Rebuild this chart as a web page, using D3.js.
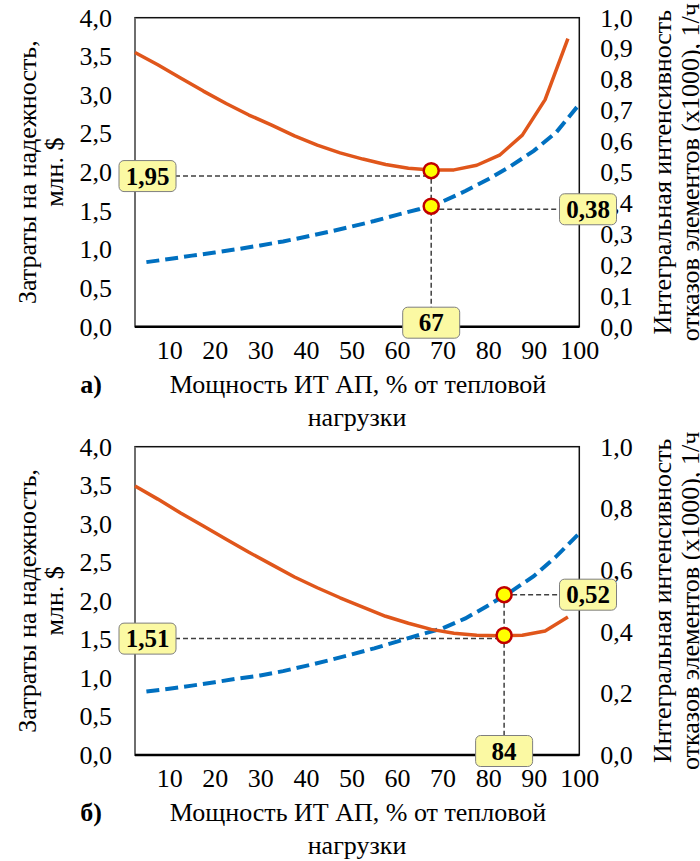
<!DOCTYPE html>
<html>
<head>
<meta charset="utf-8">
<script src="https://cdn.jsdelivr.net/npm/d3@7"></script>
<style>
  body { margin: 0; background: #fff; }
  #chart text { font-family: "Liberation Serif", "Times New Roman", Times, "DejaVu Serif", serif !important; fill: #000; }
</style>
</head>
<body>
<svg id="chart" width="700" height="861"></svg>
<script>
// x positions (% of heat load)
const xTicks = [10, 20, 30, 40, 50, 60, 70, 80, 90, 100];
const costX = [2.5, 7.5, 12.5, 17.5, 22.5, 27.5, 32.5, 37.5, 42.5, 47.5,
               52.5, 57.5, 62.5, 67.5, 72.5, 77.5, 82.5, 87.5, 92.5, 97.5];
const rateX = [5, 10, 15, 20, 25, 30, 35, 40, 45, 50,
               55, 60, 65, 70, 75, 80, 85, 90, 95, 100];

// panel а)
const costA = [3.55, 3.39, 3.22, 3.05, 2.89, 2.74, 2.61, 2.47, 2.35, 2.25,
               2.17, 2.10, 2.05, 2.03, 2.03, 2.09, 2.22, 2.48, 2.94, 3.73];
const rateA = [0.209, 0.219, 0.230, 0.240, 0.251, 0.263, 0.276, 0.291, 0.307, 0.324,
               0.342, 0.362, 0.381, 0.405, 0.439, 0.477, 0.520, 0.569, 0.630, 0.720];

// panel б)
const costB = [3.49, 3.32, 3.14, 2.97, 2.80, 2.63, 2.47, 2.31, 2.17, 2.04,
               1.92, 1.80, 1.71, 1.63, 1.58, 1.553, 1.548, 1.553, 1.61, 1.79];
const rateB = [0.206, 0.215, 0.225, 0.236, 0.248, 0.258, 0.272, 0.289, 0.307, 0.326,
               0.346, 0.368, 0.390, 0.411, 0.443, 0.485, 0.530, 0.580, 0.645, 0.719];

const costTicks = [0, 0.5, 1, 1.5, 2, 2.5, 3, 3.5, 4];
const rateTicksA = [0, 0.1, 0.2, 0.3, 0.4, 0.5, 0.6, 0.7, 0.8, 0.9, 1];
const rateTicksB = [0, 0.2, 0.4, 0.6, 0.8, 1];

// optimum markers: position on curves and the callout values
const markX = [67.5, 83.5];
const markCost = [2.02, 1.55];
const markRate = [0.39, 0.52];
const calloutX = ["67", "84"];
const calloutCost = ["1,95", "1,51"];
const calloutRate = ["0,38", "0,52"];
const panelTags = ["а)", "б)"];

const serif = '"Liberation Serif", "Times New Roman", Times, "DejaVu Serif", serif';
const fs = 26;
const svg = d3.select("#chart").attr("font-family", serif);
const fmt = d => d3.format(".1f")(d).replace(".", ",");
const num = s => +s.replace(",", ".");

const left = 135, right = 579.3;
const x = d3.scaleLinear().domain([2.5, 100]).range([left, right]);

function drawPanel(i, top, bottom, cost, rate, rateTicks) {
    const g = svg.append("g");
    const yL = d3.scaleLinear().domain([0, 4]).range([bottom, top]);
    const yR = d3.scaleLinear().domain([0, 1]).range([bottom, top]);

    // axes
    g.append("g")
        .attr("transform", "translate(" + left + ",0)")
        .call(d3.axisLeft(yL).tickValues(costTicks).tickSize(0).tickPadding(23).tickFormat(fmt))
        .attr("font-size", fs).attr("font-family", serif)
        .call(a => a.select(".domain").remove());

    g.append("g")
        .attr("transform", "translate(" + right + ",0)")
        .call(d3.axisRight(yR).tickValues(rateTicks).tickSize(0).tickPadding(21).tickFormat(fmt))
        .attr("font-size", fs).attr("font-family", serif)
        .call(a => a.select(".domain").remove());

    g.append("g")
        .attr("transform", "translate(0," + bottom + ")")
        .call(d3.axisBottom(x).tickValues(xTicks).tickSize(0).tickPadding(14))
        .attr("font-size", fs).attr("font-family", serif)
        .call(a => a.select(".domain").remove());

    // plot frame
    g.append("rect")
        .attr("x", left).attr("y", top)
        .attr("width", right - left).attr("height", bottom - top)
        .attr("fill", "none").attr("stroke", "#111").attr("stroke-width", 1.5);
    g.append("line")
        .attr("x1", left).attr("x2", left).attr("y1", top).attr("y2", bottom)
        .attr("stroke", "#6e6e6e").attr("stroke-width", 2);
    g.append("line")
        .attr("x1", left).attr("x2", right).attr("y1", bottom).attr("y2", bottom)
        .attr("stroke", "#000").attr("stroke-width", 2.5);

    // callout guide lines
    const mx = x(markX[i]);
    const cy = yL(markCost[i]);
    const ry = yR(markRate[i]);
    const guide = (x1, y1, x2, y2) => g.append("line")
        .attr("x1", x1).attr("y1", y1).attr("x2", x2).attr("y2", y2)
        .attr("stroke", "#404040").attr("stroke-width", 1.5)
        .attr("stroke-dasharray", "5,3");
    guide(left, yL(num(calloutCost[i])), mx, yL(num(calloutCost[i])));
    guide(mx, yR(num(calloutRate[i])), right, yR(num(calloutRate[i])));
    guide(mx, Math.min(cy, ry), mx, bottom);

    // curves
    g.append("path")
        .datum(rateX.map((d, k) => [d, rate[k]]))
        .attr("fill", "none")
        .attr("stroke", "#0070c0")
        .attr("stroke-width", 4)
        .attr("stroke-dasharray", "13,6")
        .attr("d", d3.line().x(d => x(d[0])).y(d => yR(d[1])));

    g.append("path")
        .datum(costX.map((d, k) => [d, cost[k]]))
        .attr("fill", "none")
        .attr("stroke", "#e0561b")
        .attr("stroke-width", 3.5)
        .attr("stroke-linejoin", "round")
        .attr("d", d3.line().x(d => x(d[0])).y(d => yL(d[1])));

    // markers
    [cy, ry].forEach(y => {
        g.append("circle")
            .attr("cx", mx).attr("cy", y).attr("r", 7.5)
            .attr("fill", "#ffff00").attr("stroke", "#c00000").attr("stroke-width", 2.5);
    });

    // callout boxes
    const box = (cxp, cyp, txt) => {
        g.append("rect")
            .attr("x", cxp - 28.5).attr("y", cyp - 15.5)
            .attr("width", 57).attr("height", 31).attr("rx", 5)
            .attr("fill", "#fbf9a3").attr("stroke", "#7f7f7f").attr("stroke-width", 1);
        g.append("text")
            .attr("x", cxp).attr("y", cyp).attr("dy", "0.35em")
            .attr("text-anchor", "middle")
            .attr("font-size", 25).attr("font-weight", "bold")
            .text(txt);
    };
    box(147.5, yL(num(calloutCost[i])), calloutCost[i]);
    box(588, yR(num(calloutRate[i])), calloutRate[i]);
    box(mx, bottom - 4, calloutX[i]);

    // axis titles
    const mid = (top + bottom) / 2;
    const rot = (xb, txt) => g.append("text")
        .attr("transform", "translate(" + xb + "," + mid + ") rotate(-90)")
        .attr("text-anchor", "middle")
        .attr("font-size", fs)
        .text(txt);
    rot(36, "Затраты на надежность,");
    rot(63, "млн. $");
    rot(671, "Интегральная интенсивность");
    rot(699, "отказов элементов (x1000), 1/ч");

    g.append("text")
        .attr("x", 358).attr("y", bottom + 57).attr("dy", "0.35em")
        .attr("text-anchor", "middle").attr("font-size", fs)
        .text("Мощность ИТ АП, % от тепловой");
    g.append("text")
        .attr("x", 357).attr("y", bottom + 90).attr("dy", "0.35em")
        .attr("text-anchor", "middle").attr("font-size", fs)
        .text("нагрузки");
    g.append("text")
        .attr("x", 91).attr("y", bottom + 57).attr("dy", "0.35em")
        .attr("text-anchor", "middle").attr("font-size", fs).attr("font-weight", "bold")
        .text(panelTags[i]);
}

drawPanel(0, 17.7, 326.7, costA, rateA, rateTicksA);
drawPanel(1, 446.7, 755, costB, rateB, rateTicksB);
</script>
</body>
</html>
